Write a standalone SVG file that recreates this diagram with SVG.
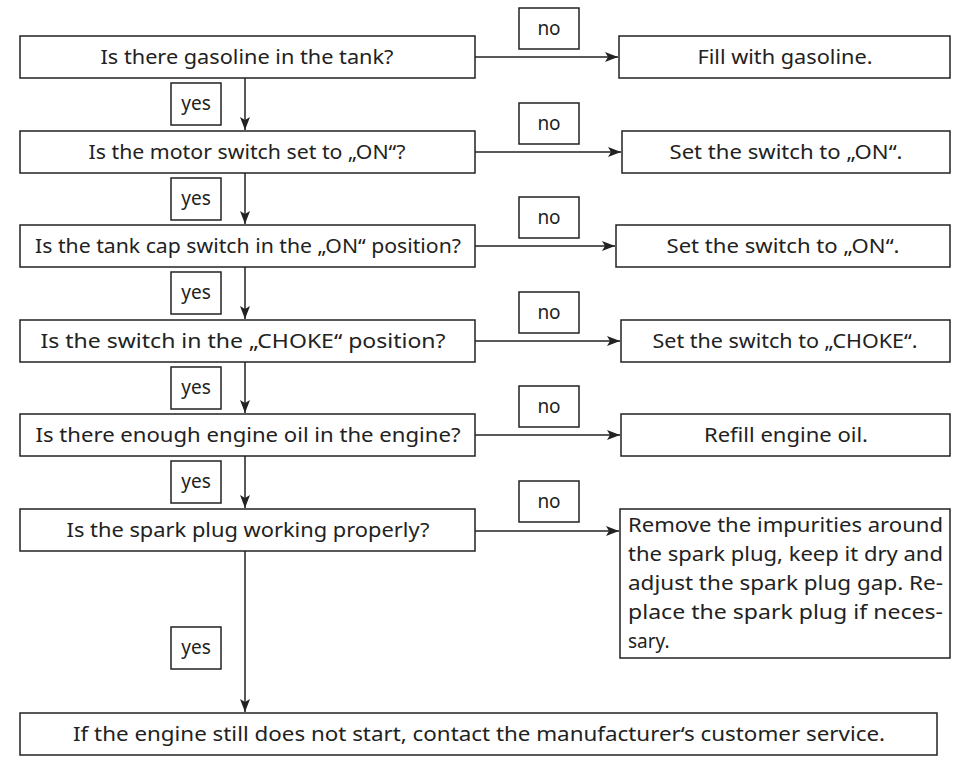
<svg xmlns="http://www.w3.org/2000/svg" width="957" height="777" viewBox="0 0 957 777">
<style>
.box{fill:#fff;stroke:#222;stroke-width:1.5}
.t{font-family:"Noto Sans","Open Sans",sans-serif;font-size:19px;fill:#222;text-anchor:middle}
.l{font-family:"Noto Sans","Open Sans",sans-serif;font-size:19px;fill:#222;text-anchor:start}
.c{fill:none;stroke:#222;stroke-width:1.5}
</style>
<defs>
<marker id="ah" markerUnits="userSpaceOnUse" markerWidth="14" markerHeight="10" refX="13" refY="5" orient="auto">
<path d="M0,0 L13,5 L0,10 L3,5 z" fill="#222"/>
</marker>
</defs>
<rect width="957" height="777" fill="#fff"/>
<g id="connectors">
<path class="c" d="M245,78 V130" marker-end="url(#ah)"/>
<path class="c" d="M245,173 V224" marker-end="url(#ah)"/>
<path class="c" d="M245,267 V319" marker-end="url(#ah)"/>
<path class="c" d="M245,362 V413" marker-end="url(#ah)"/>
<path class="c" d="M245,456 V508" marker-end="url(#ah)"/>
<path class="c" d="M245,551 V712" marker-end="url(#ah)"/>
<path class="c" d="M475,57 H618" marker-end="url(#ah)"/>
<path class="c" d="M475,152 H621" marker-end="url(#ah)"/>
<path class="c" d="M475,246 H615" marker-end="url(#ah)"/>
<path class="c" d="M475,341 H620" marker-end="url(#ah)"/>
<path class="c" d="M475,435 H620" marker-end="url(#ah)"/>
<path class="c" d="M475,531 H619" marker-end="url(#ah)"/>
<g id="labels">
<rect class="box" x="519" y="8" width="60" height="41"/><text class="t" x="549" y="35">no</text>
<rect class="box" x="519" y="103" width="60" height="41"/><text class="t" x="549" y="130">no</text>
<rect class="box" x="519" y="197" width="60" height="41"/><text class="t" x="549" y="224">no</text>
<rect class="box" x="519" y="292" width="60" height="41"/><text class="t" x="549" y="319">no</text>
<rect class="box" x="519" y="386" width="60" height="41"/><text class="t" x="549" y="413">no</text>
<rect class="box" x="519" y="481" width="60" height="41"/><text class="t" x="549" y="508">no</text>
<rect class="box" x="171" y="83" width="50" height="42"/><text class="t" x="196" y="110">yes</text>
<rect class="box" x="171" y="178" width="50" height="42"/><text class="t" x="196" y="205">yes</text>
<rect class="box" x="171" y="272" width="50" height="42"/><text class="t" x="196" y="299">yes</text>
<rect class="box" x="171" y="367" width="50" height="42"/><text class="t" x="196" y="394">yes</text>
<rect class="box" x="171" y="461" width="50" height="42"/><text class="t" x="196" y="488">yes</text>
<rect class="box" x="171" y="627" width="50" height="42"/><text class="t" x="196" y="654">yes</text>
</g>
</g>
<g id="q1"><rect class="box" x="20" y="36" width="455" height="42"/><text class="t" x="247" y="64" textLength="293" lengthAdjust="spacingAndGlyphs">Is there gasoline in the tank?</text></g>
<g id="q2"><rect class="box" x="20" y="131" width="455" height="42"/><text class="t" x="247" y="159" textLength="317" lengthAdjust="spacingAndGlyphs">Is the motor switch set to „ON“?</text></g>
<g id="q3"><rect class="box" x="20" y="225" width="455" height="42"/><text class="t" x="248" y="253" textLength="426" lengthAdjust="spacingAndGlyphs">Is the tank cap switch in the „ON“ position?</text></g>
<g id="q4"><rect class="box" x="20" y="320" width="455" height="42"/><text class="t" x="243" y="348" textLength="405" lengthAdjust="spacingAndGlyphs">Is the switch in the „CHOKE“ position?</text></g>
<g id="q5"><rect class="box" x="20" y="414" width="455" height="42"/><text class="t" x="248" y="442" textLength="425" lengthAdjust="spacingAndGlyphs">Is there enough engine oil in the engine?</text></g>
<g id="q6"><rect class="box" x="20" y="509" width="455" height="42"/><text class="t" x="248" y="537" textLength="363" lengthAdjust="spacingAndGlyphs">Is the spark plug working properly?</text></g>
<g id="a1"><rect class="box" x="619" y="36" width="331" height="42"/><text class="t" x="785" y="64" textLength="175" lengthAdjust="spacingAndGlyphs">Fill with gasoline.</text></g>
<g id="a2"><rect class="box" x="622" y="131" width="328" height="42"/><text class="t" x="786" y="159" textLength="233" lengthAdjust="spacingAndGlyphs">Set the switch to „ON“.</text></g>
<g id="a3"><rect class="box" x="616" y="225" width="334" height="42"/><text class="t" x="783" y="253" textLength="233" lengthAdjust="spacingAndGlyphs">Set the switch to „ON“.</text></g>
<g id="a4"><rect class="box" x="621" y="320" width="329" height="42"/><text class="t" x="785" y="348" textLength="265" lengthAdjust="spacingAndGlyphs">Set the switch to „CHOKE“.</text></g>
<g id="a5"><rect class="box" x="621" y="414" width="329" height="42"/><text class="t" x="786" y="442" textLength="164" lengthAdjust="spacingAndGlyphs">Refill engine oil.</text></g>
<g id="a6"><rect class="box" x="620" y="509" width="330" height="149"/>
<text class="l" x="628" y="532" textLength="315" lengthAdjust="spacingAndGlyphs">Remove the impurities around</text>
<text class="l" x="628" y="561" textLength="315" lengthAdjust="spacingAndGlyphs">the spark plug, keep it dry and</text>
<text class="l" x="628" y="590" textLength="315" lengthAdjust="spacingAndGlyphs">adjust the spark plug gap. Re-</text>
<text class="l" x="628" y="619" textLength="315" lengthAdjust="spacingAndGlyphs">place the spark plug if neces-</text>
<text class="l" x="628" y="648">sary.</text>
</g>
<g id="end"><rect class="box" x="20" y="713" width="917" height="42"/><text class="t" x="479" y="741" textLength="812" lengthAdjust="spacingAndGlyphs">If the engine still does not start, contact the manufacturer‘s customer service.</text></g>
</svg>
